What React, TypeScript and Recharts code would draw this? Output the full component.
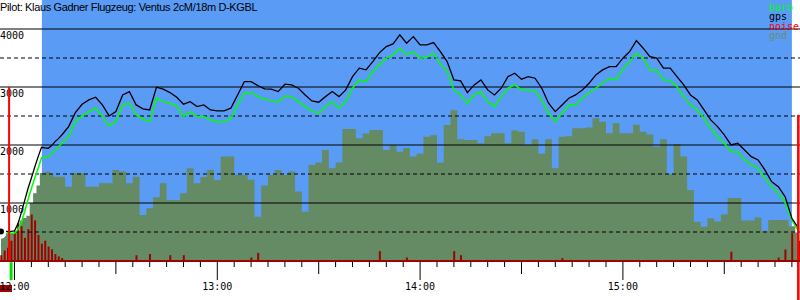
import { ComposedChart, XAxis, YAxis, Area, Line, Bar, ReferenceArea, ReferenceLine } from "recharts";

// sample times in minutes after 12:00 (every 2 min)
const sampleTimes = Array.from({ length: 119 }, (_, i) => -4 + i * 2);

const gps = [
  510, 510, 520, 830, 1250, 1620, 1960, 1944, 2058, 2173, 2317, 2558, 2703, 2777, 2823, 2691, 2501, 2576, 2863, 2921,
  2691, 2622, 2605, 2996, 2962, 2904, 2823, 2703, 2748, 2662, 2691, 2605, 2588, 2588, 2634, 2863, 3093, 3093, 3024, 2967,
  2962, 2921, 3048, 3036, 2979, 2863, 2760, 2738, 2834, 2921, 2834, 2950, 3179, 3324, 3295, 3438, 3593, 3697, 3743, 3899,
  3755, 3869, 3726, 3726, 3766, 3611, 3438, 3122, 3105, 2904, 3036, 3122, 2950, 2863, 2979, 3179, 3238, 3134, 3179, 3151,
  2979, 2720, 2576, 2691, 2807, 2863, 2950, 3065, 3209, 3295, 3352, 3352, 3497, 3611, 3800, 3669, 3524, 3497, 3324, 3324,
  3179, 3036, 2863, 2777, 2605, 2432, 2317, 2173, 2001, 2030, 1915, 1800, 1742, 1570, 1368, 1282, 1109, 737, 564,
];

const baro = [
  480, 480, 480, 660, 1060, 1430, 1780, 1800, 1915, 2030, 2144, 2403, 2501, 2576, 2634, 2490, 2329, 2403, 2691, 2720,
  2519, 2444, 2403, 2807, 2748, 2720, 2674, 2490, 2576, 2490, 2490, 2432, 2403, 2403, 2450, 2691, 2893, 2910, 2834, 2789,
  2765, 2738, 2846, 2834, 2748, 2662, 2588, 2548, 2662, 2748, 2634, 2748, 2979, 3122, 3093, 3266, 3381, 3497, 3554, 3669,
  3554, 3611, 3497, 3514, 3583, 3398, 3266, 2950, 2863, 2720, 2863, 2921, 2748, 2662, 2834, 2979, 3036, 2950, 2950, 2933,
  2777, 2548, 2403, 2548, 2691, 2691, 2807, 2904, 2979, 3065, 3151, 3122, 3307, 3438, 3583, 3497, 3295, 3295, 3122, 3111,
  3007, 2834, 2691, 2605, 2461, 2289, 2144, 2030, 1885, 1885, 1742, 1656, 1599, 1427, 1282, 1168, 1006, 707, 505,
];

const gnd = [
  470, 470, 480, 700, 780, 1170, 1518, 1541, 1454, 1454, 1282, 1512, 1512, 1282, 1282, 1340, 1340, 1570, 1541, 1340,
  1454, 794, 908, 1100, 1340, 1052, 1052, 1168, 1599, 1340, 1450, 1570, 1397, 1800, 1800, 1483, 1483, 1400, 765, 1300,
  1483, 1570, 1483, 1541, 1200, 850, 1656, 1700, 1915, 1600, 1700, 2277, 2277, 2116, 2200, 2260, 2260, 1915, 2001, 1885,
  1950, 1800, 1850, 2144, 2170, 1700, 2346, 2600, 2100, 2087, 2087, 2030, 2150, 2202, 2202, 2030, 2250, 2230, 2001, 2100,
  1850, 2100, 1600, 2144, 2150, 2289, 2289, 2300, 2461, 2400, 2202, 2375, 2202, 2202, 2350, 2230, 2180, 1971, 2100, 1500,
  2018, 1800, 1225, 678, 592, 736, 680, 800, 1087, 1087, 700, 700, 750, 520, 707, 707, 707, 600, 490,
];

// extra samples during the launch (odd minutes)
const launchTimes = [-3, -1, 1, 3, 5, 7, 9, 11, 13];
const launchGps = [510, 510, 640, 1040, 1430, 1800, 1950, 1990, 2110];
const launchBaro = [480, 480, 540, 850, 1250, 1600, 1790, 1850, 1970];
const launchGnd = [470, 470, 520, 740, 1000, 1300, 1530, 1500, 1454];

// noise spikes: minute -> value
const noiseTimes = [-4, -3, -2, -1, 0, 1, 2, 3, 4, 5, 6, 7, 8, 9, 10, 11, 12, 13, 14, 36, 40, 46, 50, 70, 72, 108, 116, 130, 132, 162, 212, 226, 228, 230, 232];
const noiseValues = [100, 180, 230, 350, 500, 650, 600, 400, 550, 800, 700, 450, 300, 350, 250, 200, 120, 80, 50, 100, 120, 100, 100, 60, 140, 170, 60, 170, 100, 50, 160, 60, 200, 480, 350];

const timeTicks = Array.from({ length: 47 }, (_, i) => i * 5);
const altTicks = [1000, 2000, 3000, 4000];
const halfTicks = [500, 1500, 2500, 3500];

const flightStart = 8.1;
const flightEnd = 230;

const rowsByTime = new Map<number, any>();
sampleTimes.forEach((t, i) => rowsByTime.set(t, { t, gnd: gnd[i], baro: baro[i], gps: gps[i], noise: 0 }));
launchTimes.forEach((t, i) =>
  rowsByTime.set(t, { t, gnd: launchGnd[i], baro: launchBaro[i], gps: launchGps[i], noise: 0 })
);
noiseTimes.forEach((t, i) => {
  rowsByTime.get(t).noise = noiseValues[i];
});
const data = [...rowsByTime.values()].sort((a, b) => a.t - b.t);

const mono = "'DejaVu Sans Mono', monospace";

const TimeTick = ({ x, y, payload }: any) => {
  const v = payload.value;
  const len = v % 60 === 0 ? 19 : v % 30 === 0 ? 13 : 6;
  return (
    <g>
      <line x1={x} x2={x} y1={y} y2={y + len} stroke="#000" />
      {v === 0 && <rect x={x - 14.5} y={y + 24} width={12} height={7} fill="#a00000" />}
      {v % 60 === 0 && (
        <text x={x} y={y + 29} textAnchor="middle" fontFamily={mono} fontSize={10} fill="#000">
          {`${12 + v / 60}:00`}
        </text>
      )}
    </g>
  );
};

const altLabel = (v: number) => (props: any) => (
  <text x={0} y={props.viewBox.y + 10} fontFamily={mono} fontSize={10} fill="#000">
    {v}
  </text>
);

export default function App() {
  return (
    <div style={{ position: "absolute", left: 0, top: 0, width: 800, height: 300, background: "#fff" }}>
      <ComposedChart width={800} height={300} data={data} margin={{ top: 0, right: 0, bottom: 0, left: 0 }}>
        <XAxis
          type="number"
          dataKey="t"
          domain={[-4.29, 232.4]}
          allowDataOverflow
          ticks={timeTicks}
          interval={0}
          tick={<TimeTick />}
          tickLine={false}
          tickSize={0}
          tickMargin={0}
          height={39}
          axisLine={{ stroke: "#a00000", strokeWidth: 2 }}
        />
        <YAxis type="number" domain={[0, 4500]} allowDataOverflow hide width={0} />
        <ReferenceArea x1={flightStart} x2={flightEnd} y1={0} y2={4500} fill="#5a9bf6" fillOpacity={1} stroke="none" />
        <Area dataKey="gnd" type="step" fill="#658b65" fillOpacity={1} stroke="none" isAnimationActive={false} />
        <Bar dataKey="noise" fill="#a00000" barSize={2} isAnimationActive={false} />
        {altTicks.map((v) => (
          <ReferenceLine key={v} y={v} stroke="#000" strokeWidth={1} label={altLabel(v)} />
        ))}
        {halfTicks.map((v) => (
          <ReferenceLine key={v} y={v} stroke="#000" strokeWidth={1} strokeDasharray="4 3" />
        ))}
        <Line dataKey="baro" stroke="#00ff00" strokeWidth={1.5} dot={false} isAnimationActive={false} />
        <Line dataKey="gps" stroke="#000" strokeWidth={1.3} dot={false} isAnimationActive={false} />
        <ReferenceLine segment={[{ x: -1.6, y: 0 }, { x: -1.6, y: 3000 }]} stroke="#ff0000" strokeWidth={2} ifOverflow="visible" />
        <ReferenceLine segment={[{ x: 231.9, y: -680 }, { x: 231.9, y: 2520 }]} stroke="#ff0000" strokeWidth={2.5} ifOverflow="visible" />
        <ReferenceLine segment={[{ x: -1.0, y: -20 }, { x: -1.0, y: -330 }]} stroke="#00e000" strokeWidth={3} ifOverflow="visible" />
      </ComposedChart>
      <svg width={800} height={50} style={{ position: "absolute", left: 0, top: 0, pointerEvents: "none" }}>
        <text x={0} y={11} fontFamily="'Liberation Sans', Arial, sans-serif" fontSize={11} letterSpacing={-0.35} fill="#000">
          Pilot: Klaus Gadner Flugzeug: Ventus 2cM/18m D-KGBL
        </text>
        <g fontFamily={mono} fontSize={10}>
          <text x={769} y={10.5} fill="#00ff00">baro</text>
          <text x={769} y={20} fill="#000">gps</text>
          <text x={769} y={29.5} fill="#ff0000">noise</text>
          <text x={769} y={39} fill="#6c8c6c">gnd</text>
        </g>
      </svg>
    </div>
  );
}
